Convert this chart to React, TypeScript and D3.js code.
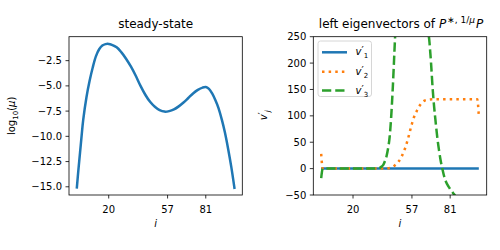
import React from "react";
import * as d3 from "d3";

// ---- data ----
const muIdx = [0, 1, 2, 3, 4, 6, 8, 10, 12, 14, 16, 18, 20, 22, 25, 28, 31, 34, 37, 40, 43, 46, 49, 52, 55, 58, 61, 64, 67, 70, 73, 76, 79, 81, 83, 85, 87, 89, 91, 93, 95, 97, 99];
const logMu = [-15.05, -13.25, -11.6, -9.9, -8.35, -6.15, -4.5, -3.15, -2.05, -1.37, -1.0, -0.86, -0.84, -0.93, -1.18, -1.68, -2.33, -3.1, -4.0, -5.0, -5.88, -6.58, -7.07, -7.4, -7.55, -7.5, -7.33, -7.03, -6.65, -6.2, -5.75, -5.4, -5.17, -5.12, -5.3, -5.75, -6.4, -7.2, -8.3, -9.6, -11.2, -13.0, -15.1];

const v1Idx = [0, 99];
const v1 = [0, 0];

const v2Idx = [0, 1, 10, 20, 30, 40, 42, 44, 45, 46, 47, 48, 49, 50, 51, 52, 53, 54, 55, 56, 57, 58, 59, 60, 61, 62, 63, 64, 65, 66, 68, 70, 80, 90, 98, 99];
const v2 = [28, 0, 0, 0, 0, 0, 0.5, 2, 3.5, 5.5, 8, 11, 15, 20, 26, 33, 41, 51, 62, 74, 85, 95, 103, 109, 115, 120, 124, 127, 129, 130, 131, 131.5, 131.5, 131.5, 131.5, 100];

const v3Idx = [0, 1, 10, 20, 30, 34, 36, 37, 38, 39, 40, 41, 42, 43, 44, 45, 46, 47, 48, 50, 53, 57, 61, 64, 66, 67, 68, 69, 70, 71, 72, 73, 74, 75, 76, 77, 78, 79, 80, 81, 82, 83, 84, 86, 90, 95, 99];
const v3 = [-18, 0, 0, 0, 0, 0.3, 1, 2, 4, 7, 14, 23, 38, 60, 100, 155, 222, 290, 370, 560, 800, 900, 800, 560, 380, 275, 240, 200, 152, 115, 85, 57, 35, 16, 1, -12, -22, -29, -34, -39, -43, -47, -51, -58, -70, -80, -85];

const xTicks = [20, 57, 81];
const leftYTicks = [-2.5, -5.0, -7.5, -10.0, -12.5, -15.0];
const rightYTicks = [-50, 0, 50, 100, 150, 200, 250];
const rightYDomain = [-50, 250];
const legendLabels = ["1", "2", "3"];

const blue = "#1f77b4";
const orange = "#ff7f0e";
const green = "#2ca02c";
const FONT = "DejaVu Sans, sans-serif";

const fmtMinus = (v: number, digits: number) =>
  (v < 0 ? "\u2212" : "") + Math.abs(v).toFixed(digits);

const top = 36.7;
const bottom = 195;
const L = { x0: 69, x1: 242.3 };
const R = { x0: 313.3, x1: 486.7 };

function zip(xs: number[], ys: number[]) {
  return xs.map((x, i) => [x, ys[i]] as [number, number]);
}

export default function App() {
  const xExtent = [-4.95, 103.95];
  const xL = d3.scaleLinear().domain(xExtent).range([L.x0, L.x1]);
  const xR = d3.scaleLinear().domain(xExtent).range([R.x0, R.x1]);

  const mn = d3.min(logMu)!;
  const mx = d3.max(logMu)!;
  const pad = (mx - mn) * 0.05;
  const yL = d3.scaleLinear().domain([mn - pad, mx + pad]).range([bottom, top]);
  const yR = d3.scaleLinear().domain(rightYDomain).range([bottom, top]);

  const lineL = d3
    .line<[number, number]>()
    .x((d) => xL(d[0]))
    .y((d) => yL(d[1]))
    .curve(d3.curveCatmullRom.alpha(0.5));
  const lineR = d3
    .line<[number, number]>()
    .x((d) => xR(d[0]))
    .y((d) => yR(d[1]))
    .curve(d3.curveMonotoneX);

  const lw = 2.5;
  const dotted = `${1 * lw} ${1.65 * lw}`;
  const dashed = `${3.7 * lw} ${1.6 * lw}`;

  const xAxis = (sx: d3.ScaleLinear<number, number>, key: string) => (
    <g key={key}>
      {xTicks.map((t) => (
        <g key={t}>
          <line x1={sx(t)} x2={sx(t)} y1={bottom} y2={bottom + 3.5} stroke="#000" strokeWidth={0.8} />
          <text x={sx(t)} y={213} textAnchor="middle" fontSize={10} fontFamily={FONT}>
            {t}
          </text>
        </g>
      ))}
    </g>
  );

  const legendStyles = [
    { c: blue, dash: "none" },
    { c: orange, dash: dotted },
    { c: green, dash: dashed },
  ];
  const legendRows = [52.3, 71.7, 90.5];

  return (
    <svg width={500} height={250} style={{ position: "absolute", left: 0, top: 0, background: "#fff" }}>
      <defs>
        <clipPath id="clipL">
          <rect x={L.x0} y={top} width={L.x1 - L.x0} height={bottom - top} />
        </clipPath>
        <clipPath id="clipR">
          <rect x={R.x0} y={top} width={R.x1 - R.x0} height={bottom - top} />
        </clipPath>
      </defs>
      <rect x={0} y={0} width={500} height={250} fill="#fff" />

      {/* ---------- left panel ---------- */}
      <g clipPath="url(#clipL)">
        <path d={lineL(zip(muIdx, logMu)) || ""} fill="none" stroke={blue} strokeWidth={lw} strokeLinecap="square" />
      </g>
      <rect x={L.x0} y={top} width={L.x1 - L.x0} height={bottom - top} fill="none" stroke="#000" strokeWidth={0.8} />
      {leftYTicks.map((t) => (
        <g key={t}>
          <line x1={L.x0 - 3.5} x2={L.x0} y1={yL(t)} y2={yL(t)} stroke="#000" strokeWidth={0.8} />
          <text x={L.x0 - 7} y={yL(t) + 3.6} textAnchor="end" fontSize={10} fontFamily={FONT}>
            {fmtMinus(t, 1)}
          </text>
        </g>
      ))}
      {xAxis(xL, "xl")}
      <text x={(L.x0 + L.x1) / 2} y={226.5} textAnchor="middle" fontSize={10} fontFamily={FONT} fontStyle="italic">
        i
      </text>
      <text x={(L.x0 + L.x1) / 2} y={28} textAnchor="middle" fontSize={12} fontFamily={FONT}>
        steady-state
      </text>
      <g transform={`translate(15,${(top + bottom) / 2}) rotate(-90)`}>
        <text x={0} y={0} textAnchor="middle" fontSize={10} fontFamily={FONT}>
          <tspan>log</tspan>
          <tspan fontSize={7} dy={2.5}>10</tspan>
          <tspan dy={-2.5}>(</tspan>
          <tspan fontStyle="italic">μ</tspan>
          <tspan>)</tspan>
        </text>
      </g>

      {/* ---------- right panel ---------- */}
      <g clipPath="url(#clipR)">
        <path d={lineR(zip(v1Idx, v1)) || ""} fill="none" stroke={blue} strokeWidth={lw} />
        <path d={lineR(zip(v2Idx, v2)) || ""} fill="none" stroke={orange} strokeWidth={lw} strokeDasharray={dotted} />
        <path d={lineR(zip(v3Idx, v3)) || ""} fill="none" stroke={green} strokeWidth={lw} strokeDasharray={dashed} />
      </g>
      <rect x={R.x0} y={top} width={R.x1 - R.x0} height={bottom - top} fill="none" stroke="#000" strokeWidth={0.8} />
      {rightYTicks.map((t) => (
        <g key={t}>
          <line x1={R.x0 - 3.5} x2={R.x0} y1={yR(t)} y2={yR(t)} stroke="#000" strokeWidth={0.8} />
          <text x={R.x0 - 7} y={yR(t) + 3.6} textAnchor="end" fontSize={10} fontFamily={FONT}>
            {fmtMinus(t, 0)}
          </text>
        </g>
      ))}
      {xAxis(xR, "xr")}
      <text x={(R.x0 + R.x1) / 2} y={226.5} textAnchor="middle" fontSize={10} fontFamily={FONT} fontStyle="italic">
        i
      </text>
      <text x={401} y={28} textAnchor="middle" fontSize={12} fontFamily={FONT}>
        <tspan>left eigenvectors of </tspan>
        <tspan fontStyle="italic">P</tspan>
        <tspan fontSize={9} dy={-5} dx={1}>∗, 1/</tspan>
        <tspan fontSize={9} fontStyle="italic">μ</tspan>
        <tspan dy={5} dx={1} fontStyle="italic">P</tspan>
      </text>
      <g transform={`translate(267,${(top + bottom) / 2}) rotate(-90)`}>
        <text x={-4.5} y={0} fontSize={10} fontFamily={FONT}>
          <tspan fontStyle="italic">v</tspan>
          <tspan dy={-1}>′</tspan>
          <tspan dy={4} fontSize={7} fontStyle="italic">j</tspan>
        </text>
      </g>

      {/* legend */}
      <rect x={318} y={41} width={53.5} height={55.5} rx={2.5} fill="#fff" fillOpacity={0.8} stroke="#cccccc" strokeWidth={0.8} />
      {legendLabels.map((lab, k) => {
        const y = legendRows[k];
        const s = legendStyles[k];
        return (
          <g key={lab}>
            <line x1={322} x2={347} y1={y} y2={y} stroke={s.c} strokeWidth={lw} strokeDasharray={s.dash} />
            <text x={355.5} y={y + 3} fontSize={10} fontFamily={FONT}>
              <tspan fontStyle="italic">v</tspan>
              <tspan dy={-1}>′</tspan>
              <tspan dy={4} fontSize={7}>{lab}</tspan>
            </text>
          </g>
        );
      })}
    </svg>
  );
}
